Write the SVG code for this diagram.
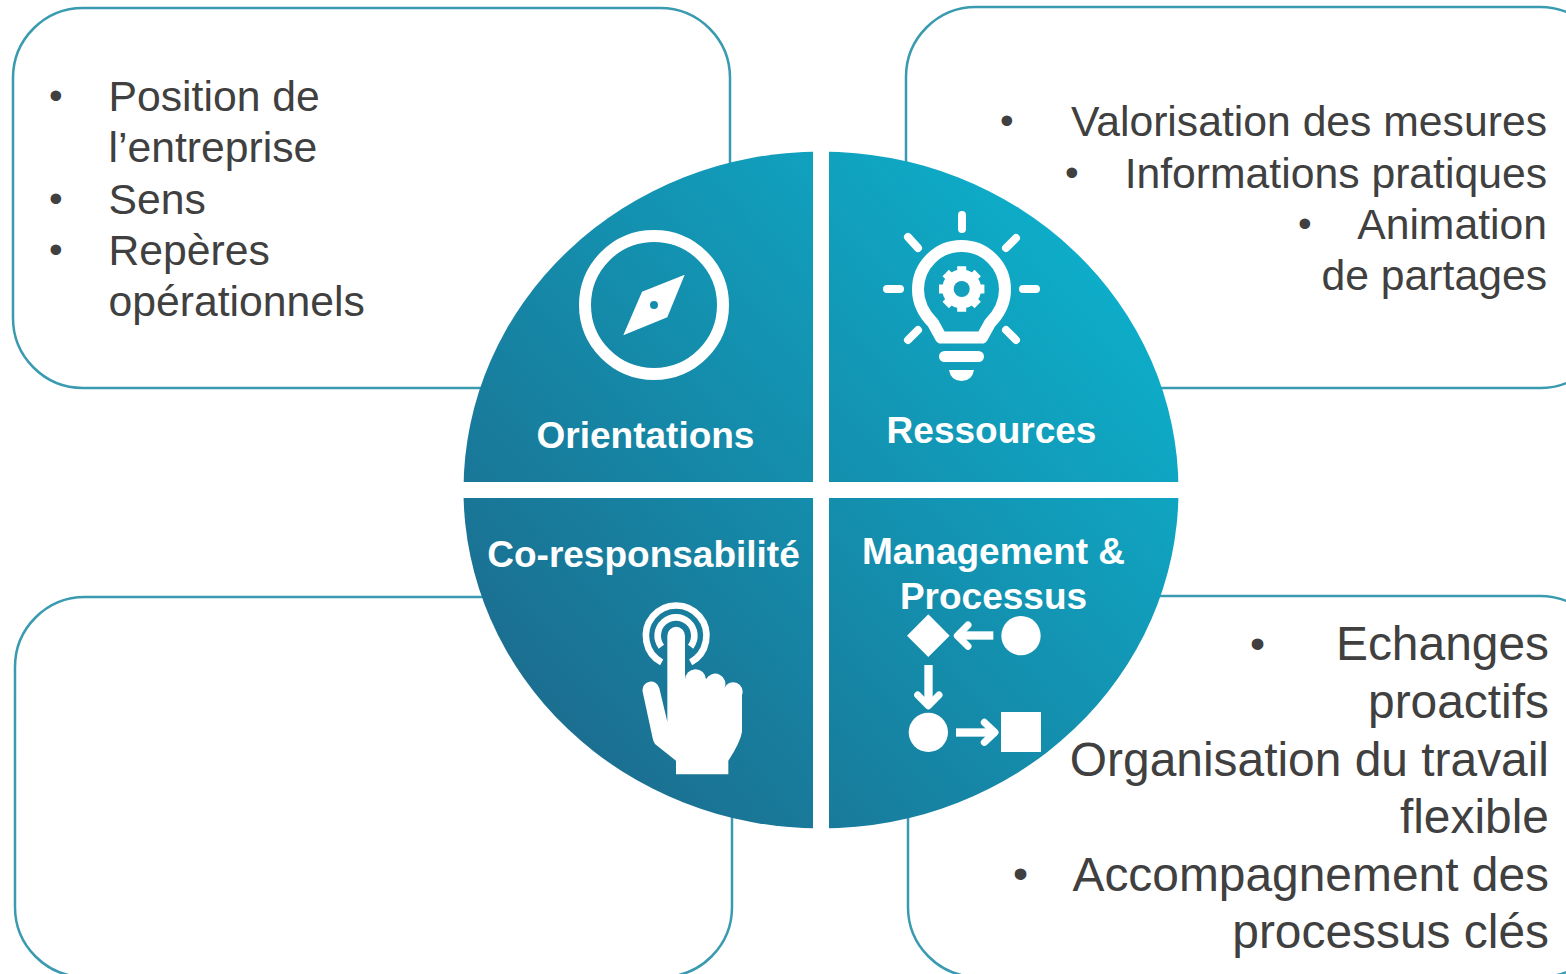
<svg xmlns="http://www.w3.org/2000/svg" width="1566" height="974" viewBox="0 0 1566 974">
<style>
.box{fill:#fff;stroke:#3a9bb0;stroke-width:2.5}
.t{font-family:"Liberation Sans",Arial,sans-serif;font-size:42.7px;fill:#404040}
.b{font-size:47.9px}
.d{font-size:39px}
.f{font-size:43px}
.e{text-anchor:end}
.l{font-family:"Liberation Sans",Arial,sans-serif;font-size:37px;font-weight:bold;fill:#fff;text-anchor:middle}
.w{fill:#fff}
.s{fill:none;stroke:#fff;stroke-linecap:round;stroke-linejoin:round}
</style>
<defs>
<linearGradient id="g" gradientUnits="userSpaceOnUse" x1="1110" y1="260" x2="540" y2="770">
<stop offset="0" stop-color="#0daeca"/><stop offset="1" stop-color="#1c6b8d"/>
</linearGradient>
</defs>
<g id="box-orientations"><rect class="box" x="13" y="8" width="717" height="380" rx="70"/>
<text class="t d" x="49" y="109">•</text><text class="t" x="108.500" y="111">Position de</text>
<text class="t" x="108.500" y="162">l’entreprise</text>
<text class="t d" x="49" y="212">•</text><text class="t" x="108.500" y="214">Sens</text>
<text class="t d" x="49" y="263">•</text><text class="t" x="108.500" y="265">Repères</text>
<text class="t" x="108.500" y="316">opérationnels</text></g>
<g id="box-ressources"><rect class="box" x="906" y="7" width="704" height="381" rx="70"/>
<text class="t d" x="1000" y="134">•</text><text class="t e" x="1547" y="136">Valorisation des mesures</text>
<text class="t d" x="1065" y="186">•</text><text class="t e" x="1547" y="188">Informations pratiques</text>
<text class="t d" x="1298" y="237">•</text><text class="t e" x="1547" y="239">Animation</text>
<text class="t e" x="1547" y="290">de partages</text></g>
<g id="box-coresponsabilite"><rect class="box" x="15" y="597" width="717" height="380" rx="70"/></g>
<g id="box-management"><rect class="box" x="908" y="596" width="702" height="381" rx="70"/>
<text class="t f" x="1250" y="658">•</text><text class="t b e" x="1549" y="660">Echanges</text>
<text class="t b e" x="1549" y="718">proactifs</text>
<text class="t b e" x="1549" y="776">Organisation du travail</text>
<text class="t b e" x="1549" y="833">flexible</text>
<text class="t f" x="1013" y="888">•</text><text class="t b e" x="1549" y="891">Accompagnement des</text>
<text class="t b e" x="1549" y="948">processus clés</text></g>
<g id="wheel"><ellipse cx="821" cy="490" rx="357.500" ry="338.500" fill="url(#g)"/>
<rect class="w" x="813" y="150" width="16" height="680"/>
<rect class="w" x="460" y="482" width="722" height="16"/></g>
<g id="node-orientations">
<circle cx="654" cy="305" r="69" fill="none" stroke="#fff" stroke-width="12"/>
<path class="w" fill-rule="evenodd" d="M684.700 274.700L642 291.700L623.300 335.300L667.300 317.300ZM658 305a4 4 0 1 0-8 0a4 4 0 1 0 8 0Z"/>
<text class="l" x="645.500" y="448">Orientations</text></g>
<g id="node-ressources">
<path class="s" stroke-width="12" d="M941 337.500H982L990 323Q1005 308 1005 289.500A43.500 43.500 0 0 0 918 289.500Q918 308 933 323Z"/>
<path class="s" stroke-width="8" d="M962 215V229M887 289H900M1023 289H1036M908 237L918 248M1016 238L1006 248M908 340L918 330M1006 330L1016 340"/>
<rect class="w" x="939" y="351" width="45" height="11" rx="5.500"/>
<path class="w" d="M949 370H974Q972 381 961.500 381Q951 381 949 370Z"/>
<g transform="translate(961.700 289)"><circle class="w" r="19.500"/>
<g stroke="#fff" stroke-width="9"><path d="M0-22.700V22.700M-22.700 0H22.700M-16-16L16 16M-16 16L16-16"/></g>
<circle r="8" fill="#12a0bd"/></g>
<text class="l" x="991.500" y="443">Ressources</text></g>
<g id="node-coresponsabilite">
<text class="l" x="643.500" y="567">Co-responsabilité</text>
<g transform="translate(620 590) scale(.33333)">
<path d="M125 217A90.800 90.800 0 1 1 212 217M124 170A55 55 0 1 1 212 170" fill="none" stroke="#fff" stroke-width="20"/>
<path class="w" d="M142 395V137A26.500 26.500 0 0 1 195 137V270A31 31 0 0 1 258 268A28 28 0 0 1 313 295A27 27 0 0 1 366 315V425Q362 455 325 512V553H168V512L105 462Q100 455 98 445L68 305A25 25 0 0 1 118 295Z"/>
</g></g>
<g id="node-management">
<text class="l" x="993.500" y="564">Management &amp;</text>
<text class="l" x="993.500" y="609">Processus</text>
<g transform="translate(620 590) scale(.33333)">
<path class="w" d="M925 73L989 137L925 201L861 137Z"/>
<circle class="w" cx="1203" cy="137" r="59"/>
<circle class="w" cx="925" cy="427" r="59"/>
<rect class="w" x="1143" y="366" width="120" height="120"/>
<rect class="w" x="1020" y="124" width="100" height="25"/>
<path class="s" stroke-width="21" d="M1044 105L1012 137L1044 169"/>
<rect class="w" x="913" y="225" width="25" height="110"/>
<path class="s" stroke-width="21" d="M893 315L925 347L957 315"/>
<rect class="w" x="1008" y="415" width="105" height="25"/>
<path class="s" stroke-width="21" d="M1093 397L1125 427L1093 457"/>
</g></g>
</svg>
